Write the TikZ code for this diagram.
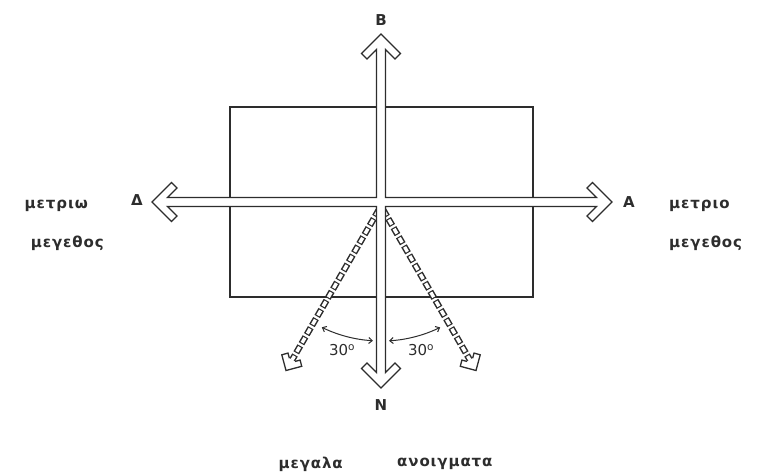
\documentclass[tikz,border=0pt]{standalone}
\usepackage{fontspec}
\setmainfont{DejaVu Sans}
\newfontfamily\grk[LetterSpace=6]{DejaVu Sans}
\usetikzlibrary{arrows.meta}
\definecolor{ink}{RGB}{45,45,45}
\tikzset{
  outline/.style={draw=ink, line width=1.3pt, fill=white, line join=miter},
  lbl/.style={text=ink, font=\bfseries\fontsize{15}{15}\selectfont, inner sep=0pt},
  grktxt/.style={text=ink, font=\grk\bfseries\fontsize{15}{15}\selectfont, inner sep=0pt},
  dashouter/.style={draw=ink, line width=6.4pt, dash pattern=on 8pt off 2.5pt},
  dashinner/.style={draw=white, line width=3.4pt, dash pattern=on 5.6pt off 4.9pt, dash phase=9.3pt},
  anglearc/.style={draw=ink, line width=1pt, {Straight Barb[length=3.5pt,width=6pt]}-{Straight Barb[length=3.5pt,width=6pt]}},
  smallhead/.style={draw=ink, line width=1.3pt, fill=white, line join=miter},
  deg/.style={text=ink, font=\fontsize{15}{15}\selectfont, inner sep=0pt}
}
\begin{document}
\begin{tikzpicture}[x=1pt,y=-1pt]
\useasboundingbox (0,0) rectangle (767,475);
\coordinate (o) at (381,206);
% frame
\draw[draw=ink, line width=1.5pt] (230,107) rectangle (533,297);
% dashed arrows
\coordinate (ls) at (379,209.5);
\coordinate (le) at (292.2,359.8);
\coordinate (rs) at (383,209.5);
\coordinate (re) at (469.8,359.8);
\draw[dashouter] (ls) -- (le);
\draw[dashinner] (ls) -- (le);
\draw[dashouter] (rs) -- (re);
\draw[dashinner] (rs) -- (re);
\begin{scope}[shift={(286,370.5)}, rotate=-30]
\draw[smallhead] (-3.2,-12.3) -- (-7,-16.1) -- (-11.5,-11.5) -- (0,0) -- (11.5,-11.5) -- (7,-16.1) -- (3.2,-12.3);
\end{scope}
\begin{scope}[shift={(476,370.5)}, rotate=30]
\draw[smallhead] (-3.2,-12.3) -- (-7,-16.1) -- (-11.5,-11.5) -- (0,0) -- (11.5,-11.5) -- (7,-16.1) -- (3.2,-12.3);
\end{scope}
% cross of open arrows
\draw[outline]
 (381,34) -- (400.5,53.5) -- (395,59) -- (385.5,49.5) -- (385.5,197.5)
 -- (596.5,197.5) -- (587,188) -- (592.5,182.5) -- (612,202) -- (592.5,221.5) -- (587,216) -- (596.5,206.5)
 -- (385.5,206.5) -- (385.5,372.5) -- (395,363) -- (400.5,368.5) -- (381,388) -- (361.5,368.5) -- (367,363) -- (376.5,372.5)
 -- (376.5,206.5) -- (167.5,206.5) -- (177,216) -- (171.5,221.5) -- (152,202) -- (171.5,182.5) -- (177,188) -- (167.5,197.5)
 -- (376.5,197.5) -- (376.5,49.5) -- (367,59) -- (361.5,53.5) -- cycle;
% angle arcs
\draw[anglearc] (321.8,327.3) arc[start angle=244, end angle=266.6, radius=135pt];
\draw[anglearc] (389,340.8) arc[start angle=273.4, end angle=296, radius=135pt];
\node[deg] (a1) at (342,350) {30$^{\mathrm{o}}$};
\node[deg] (a2) at (421,350) {30$^{\mathrm{o}}$};
% letter labels
\node[lbl] (B) at (381,20) {B};
\node[lbl] (N) at (381,405) {N};
\node[lbl] (D) at (137,200) {Δ};
\node[lbl] (A) at (629,202) {A};
% greek text
\node[grktxt, anchor=east] (l1) at (88,206) {μετριω};
\node[grktxt, anchor=east] (l2) at (104,243) {μεγεθος};
\node[grktxt, anchor=west] (r1) at (669,206) {μετριο};
\node[grktxt, anchor=west] (r2) at (669,243) {μεγεθος};
\node[grktxt, anchor=east] (b1) at (343,464) {μεγαλα};
\node[grktxt, anchor=west] (b2) at (397,464) {ανοιγματα};
\end{tikzpicture}
\end{document}
